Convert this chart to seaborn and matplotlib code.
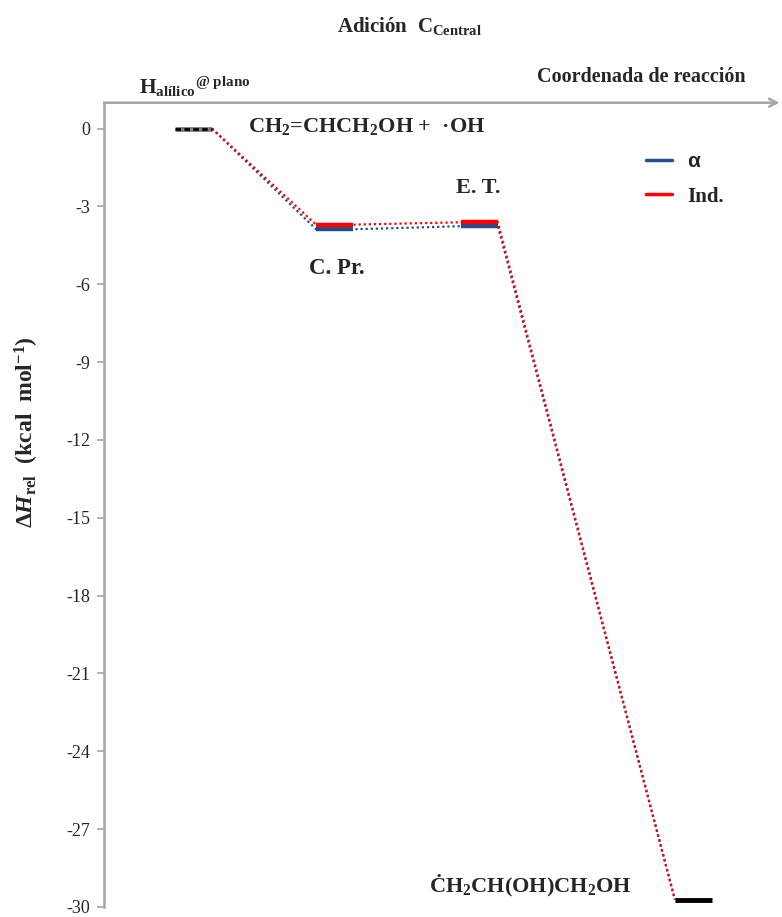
import pandas as pd
import matplotlib.pyplot as plt
import seaborn as sns
from matplotlib.lines import Line2D

# Relative enthalpies (kcal/mol)
states = ["Reactivos", "C. Pr.", "E. T.", "Producto"]
alpha_vals = [0.0, -3.88, -3.76, -29.72]
ind_vals = [0.0, -3.70, -3.61, -29.72]
series_names = ["α", "Ind."]

# where each level sits along the reaction coordinate
level_x = [1.05, 3.14, 5.28, 8.45]
level_w = 0.55

sns.set_theme(style="white")
plt.rcParams["font.family"] = ["Liberation Serif", "DejaVu Serif"]
plt.rcParams["font.weight"] = "bold"
plt.rcParams["axes.unicode_minus"] = False
plt.rcParams["mathtext.fontset"] = "custom"
plt.rcParams["mathtext.rm"] = "Liberation Serif:bold"
plt.rcParams["mathtext.bf"] = "Liberation Serif:bold"
plt.rcParams["mathtext.it"] = "Liberation Serif:italic:bold"

colors = {"α": "#1F4E8C", "Ind.": "#FF0000"}
grey = "#A6A6A6"

# long table of level end points for the dotted connectors
rows = []
for name, vals in zip(series_names, [alpha_vals, ind_vals]):
    for st, x0, v in zip(states, level_x, vals):
        rows.append({"serie": name, "estado": st, "x": x0, "dH": v})
        rows.append({"serie": name, "estado": st, "x": x0 + level_w, "dH": v})
df = pd.DataFrame(rows)

fig = plt.figure(figsize=(7.82, 9.17), dpi=100)
ax = fig.add_axes([0.133, 0.011, 0.864, 0.877])

# dotted connectors between consecutive levels
for name in series_names:
    sub = df[df.serie == name].iloc[1:-1]
    sns.lineplot(data=sub, x="x", y="dH", sort=False, estimator=None,
                 color=colors[name], linestyle=(0, (1, 1.3)), linewidth=1.6,
                 ax=ax, legend=False)

# middle levels for each series
for name, vals in zip(series_names, [alpha_vals, ind_vals]):
    ax.hlines(vals[1:3], [level_x[1], level_x[2]],
              [level_x[1] + level_w, level_x[2] + level_w],
              color=colors[name], linewidth=3.2, zorder=4)

# reactants and product
ax.hlines(alpha_vals[0], level_x[0], level_x[0] + level_w, color="#7F7F7F",
          linewidth=3.5, zorder=4)
ax.hlines(alpha_vals[0], level_x[0], level_x[0] + level_w, color="black",
          linewidth=2.0, linestyles=(0, (2, 1.2)), zorder=5)
ax.hlines(alpha_vals[3], level_x[3], level_x[3] + level_w, color="black",
          linewidth=3.5, zorder=5)

ax.set_xlim(0, 10)
ax.set_ylim(-30, 1.0)
ax.set_yticks(range(0, -31, -3))
ax.set_xticks([])
ax.set_xlabel("")
ax.set_ylabel(r"$\Delta\mathit{H}_{\mathrm{rel}}$  (kcal  mol$^{\mathrm{-1}}$)",
              fontsize=17, fontweight="bold")
ax.yaxis.set_label_coords(-0.093, 0.59)
ax.tick_params(axis="y", direction="out", length=5, width=1.2, color=grey,
               labelsize=13, pad=5, left=True)
for lab in ax.get_yticklabels():
    lab.set_fontweight("normal")

for s in ["top", "right", "bottom"]:
    ax.spines[s].set_visible(False)
ax.spines["left"].set_color(grey)
ax.spines["left"].set_linewidth(1.8)

# top reaction-coordinate axis with arrow
ax.annotate("", xy=(1.0, 1.0), xytext=(0.0, 1.0), xycoords="axes fraction",
            arrowprops=dict(arrowstyle="->", color=grey, lw=1.8,
                            shrinkA=0, shrinkB=0, mutation_scale=14),
            annotation_clip=False)

# labels
fig.text(0.524, 0.972, r"Adición  C$_{\mathrm{Central}}$", ha="center",
         va="center", fontsize=15, fontweight="bold")
fig.text(0.178, 0.905, r"H$_{\mathrm{alílico}}$$^{\mathrm{@\ plano}}$",
         ha="left", va="center", fontsize=15.5, fontweight="bold")
fig.text(0.687, 0.916, "Coordenada de reacción", ha="left", va="center",
         fontsize=14.5, fontweight="bold")
fig.text(0.317, 0.862, r"CH$_2$=CHCH$_2$OH +  ·OH", ha="left", va="center",
         fontsize=16, fontweight="bold")
fig.text(0.583, 0.795, "E. T.", ha="left", va="center", fontsize=16,
         fontweight="bold")
fig.text(0.395, 0.707, "C. Pr.", ha="left", va="center", fontsize=16.5,
         fontweight="bold")
fig.text(0.549, 0.034, r"ĊH$_2$CH(OH)CH$_2$OH", ha="left", va="center",
         fontsize=16, fontweight="bold")

handles = [Line2D([], [], color=colors[n], linewidth=2.5) for n in series_names]
leg = ax.legend(handles, series_names, loc="upper left",
                bbox_to_anchor=(0.775, 0.962), frameon=False, handlelength=1.25,
                handletextpad=0.7, labelspacing=0.75,
                prop={"family": "Liberation Serif", "weight": "bold", "size": 15})
leg.get_texts()[0].set_fontfamily("Liberation Sans")

fig.savefig("out.png", dpi=100)
